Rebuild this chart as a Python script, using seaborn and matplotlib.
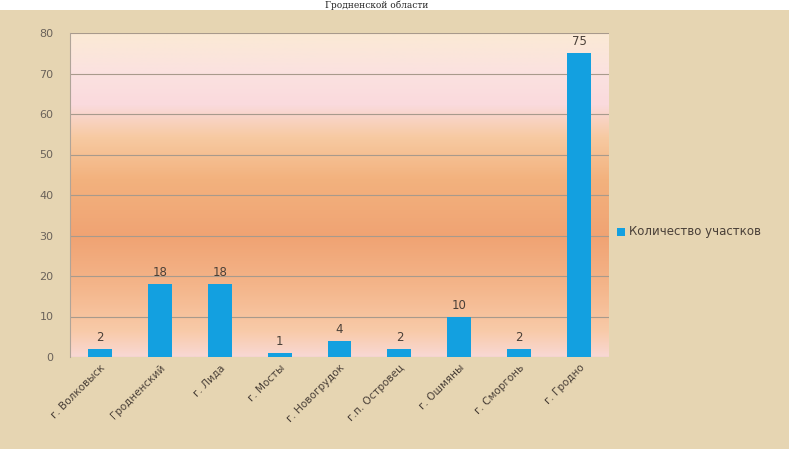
import numpy as np
import matplotlib as mpl
mpl.use("Agg")
import matplotlib.pyplot as plt
from matplotlib.colors import LinearSegmentedColormap
from matplotlib.patches import Rectangle
import seaborn as sns

# данные
districts = ["г. Волковыск", "Гродненский", "г. Лида", "г. Мосты", "г. Новогрудок",
             "г.п. Островец", "г. Ошмяны", "г. Сморгонь", "г. Гродно"]
plots_count = [2, 18, 18, 1, 4, 2, 10, 2, 75]
series_name = "Количество участков"
title_text = "Гродненской области"
y_ticks = [0, 10, 20, 30, 40, 50, 60, 70, 80]

sns.set_style("white")
plt.rcParams['font.family'] = ['DejaVu Sans']

bar_color = "#13a0e0"
paper = "#e6d5b2"

fig = plt.figure(figsize=(7.89, 4.49), dpi=100, facecolor=paper)
# белая полоса сверху с заголовком
fig.patches.append(Rectangle((0, 1 - 10 / 449), 1, 10 / 449, transform=fig.transFigure,
                             facecolor="white", edgecolor="none", zorder=0))
fig.text(0.478, 1 - 5 / 449, title_text, ha="center", va="center",
         fontsize=6.5, family="DejaVu Serif", color="#222222")

ax = fig.add_axes([70 / 789, 92 / 449, 539 / 789, 324 / 449])

# градиентная заливка области построения
grad = LinearSegmentedColormap.from_list("bg", [
    (0.00, "#f9d8d4"),
    (0.08, "#f8caa8"),
    (0.22, "#f4b58a"),
    (0.37, "#f0a373"),
    (0.55, "#f3b27e"),
    (0.68, "#f7caa2"),
    (0.78, "#fadadd"),
    (0.88, "#fbe2e0"),
    (1.00, "#fbead5"),
])
ax.imshow(np.linspace(1, 0, 256).reshape(-1, 1), cmap=grad, aspect="auto",
          extent=[0, 1, 0, 1], transform=ax.transAxes, zorder=0)

sns.barplot(x=districts, y=plots_count, color=bar_color, width=0.4,
            saturation=1, linewidth=0, ax=ax, zorder=3)
ax.set_ylim(0, 80)
ax.set_xlim(-0.5, len(districts) - 0.5)
ax.set_yticks(y_ticks)
ax.yaxis.grid(True, color="#a89a8c", linewidth=0.8, zorder=1)
ax.set_axisbelow(True)

for i, v in enumerate(plots_count):
    ax.text(i, v + 1.2, str(v), ha="center", va="bottom", fontsize=8.5,
            color="#4a4038", zorder=4)

for s in ["top", "right", "bottom"]:
    ax.spines[s].set_visible(False)
ax.spines["left"].set_color("#b0a498")
ax.spines["left"].set_linewidth(0.8)

ax.tick_params(axis="y", labelsize=8, colors="#6a625a", length=4, width=0.6, pad=8)
ax.tick_params(axis="x", length=0, pad=4)
ax.set_xticks(range(len(districts)))
ax.set_xticklabels(districts, rotation=45, ha="right", rotation_mode="anchor",
                   fontsize=7.5, color="#4a4038")

# легенда
fig.patches.append(Rectangle((617 / 789, (449 - 236) / 449), 8 / 789, 8 / 449,
                             transform=fig.transFigure, facecolor=bar_color,
                             edgecolor="none"))
fig.text(629 / 789, (449 - 232) / 449, series_name, ha="left", va="center",
         fontsize=8.5, color="#4a4038")

fig.savefig("out.png", dpi=100, facecolor=paper)
